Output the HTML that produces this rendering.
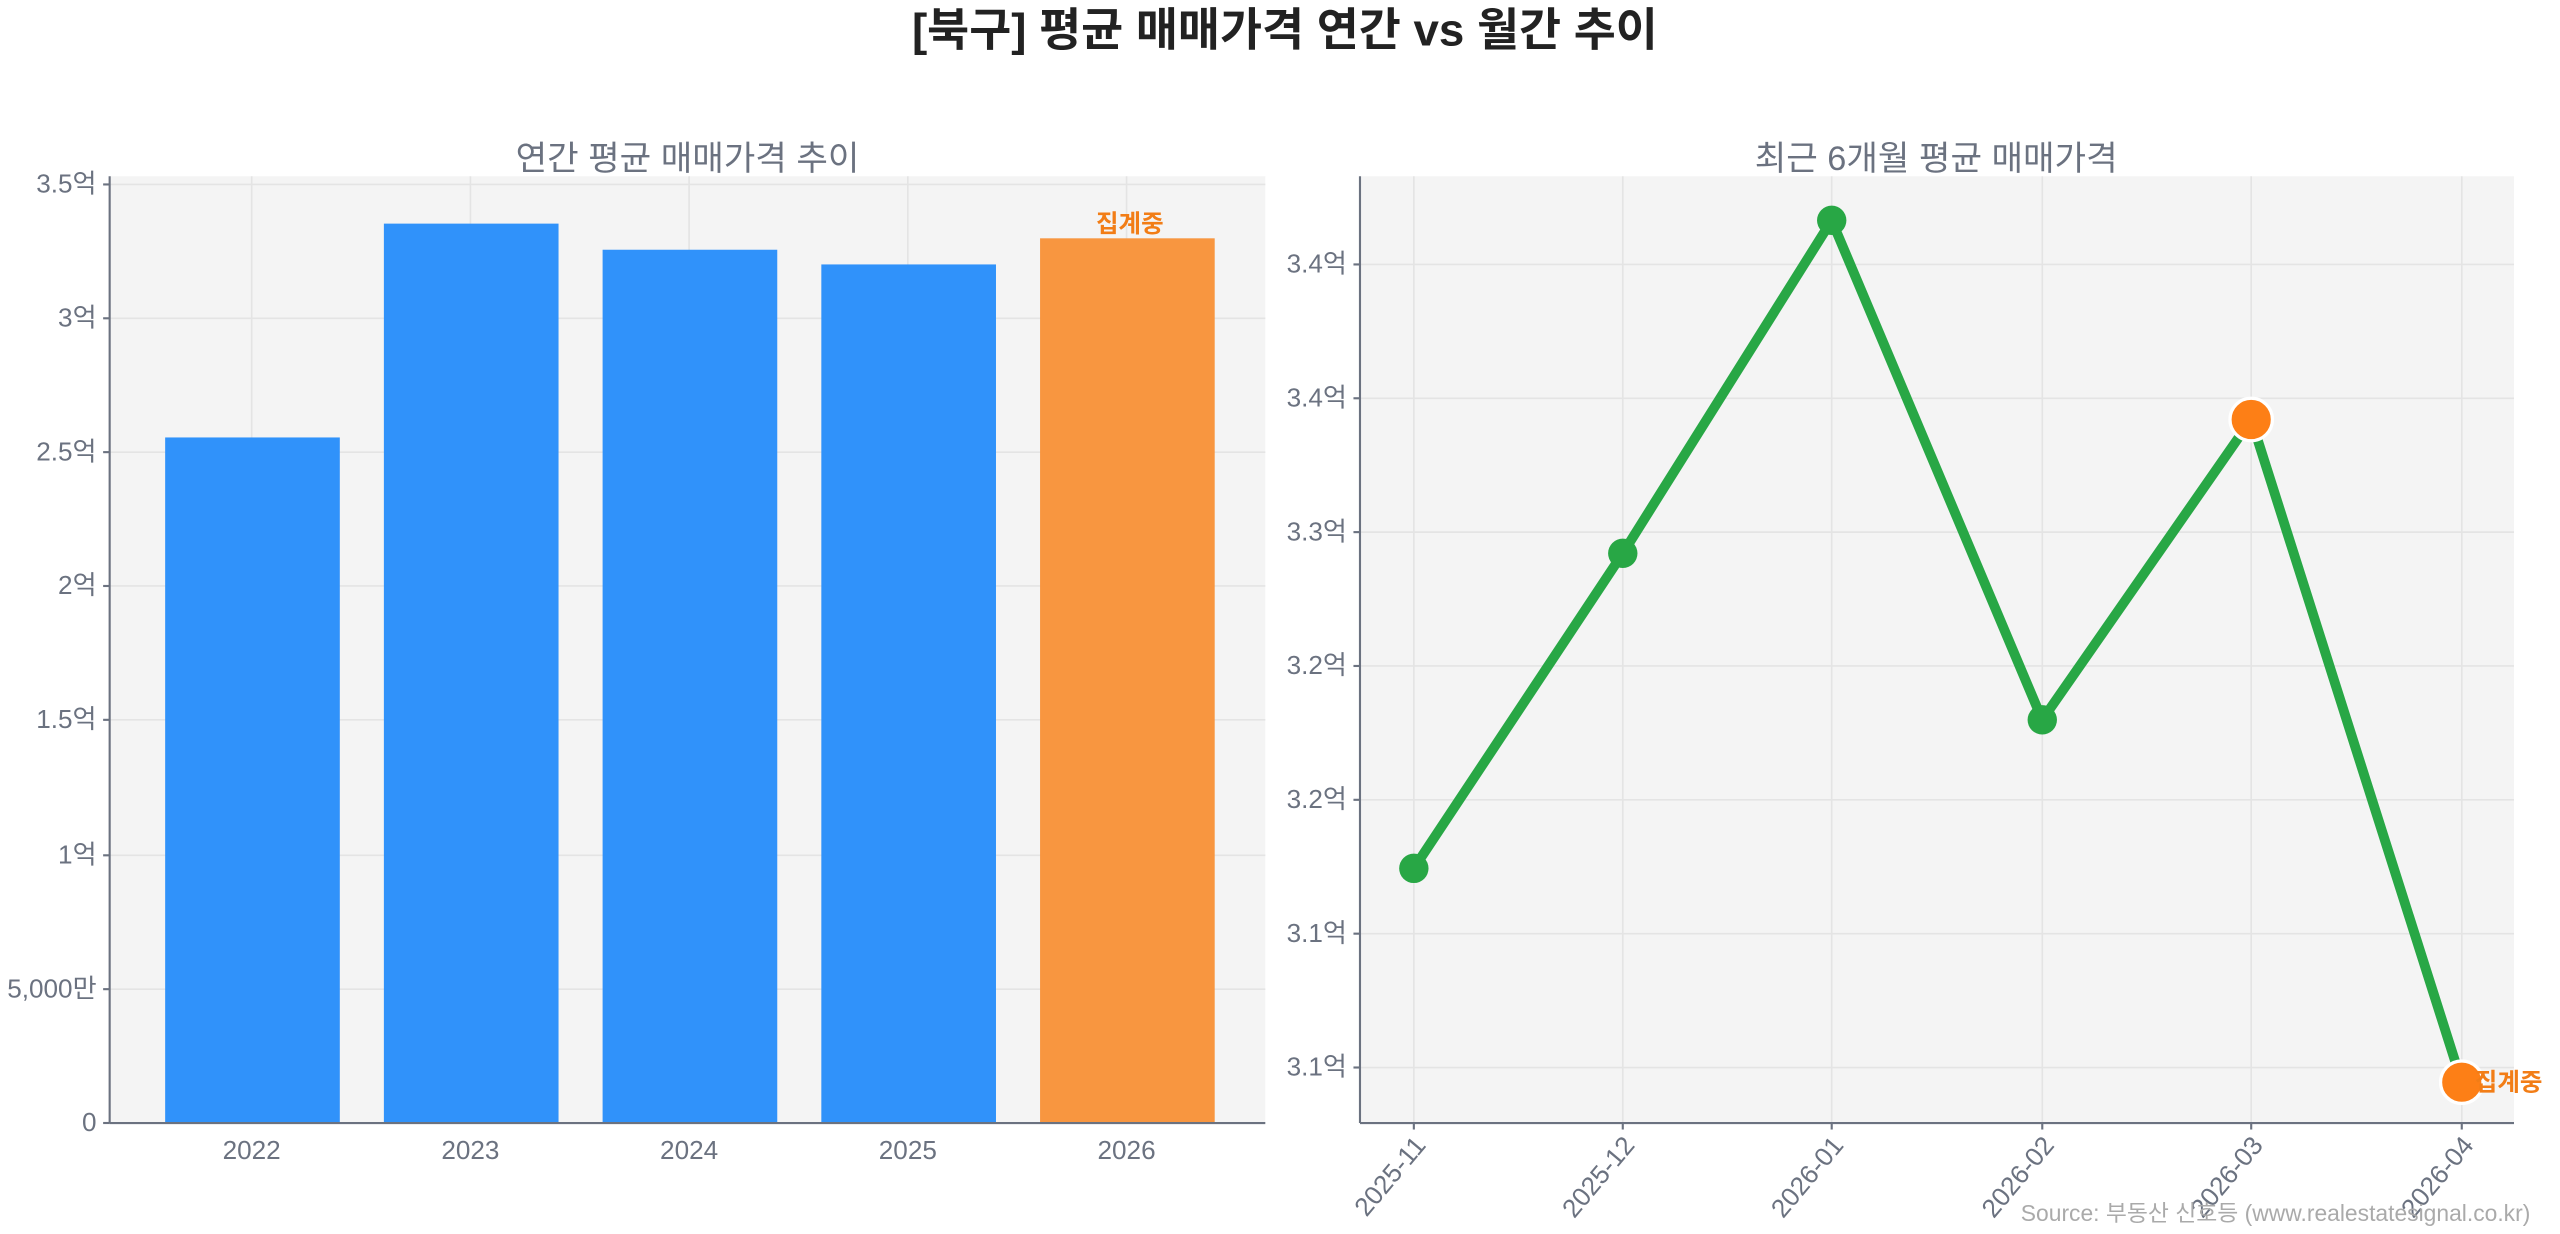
<!DOCTYPE html>
<html><head><meta charset="utf-8"><style>
html,body{margin:0;padding:0;background:#fff;}
svg{display:block}
text{font-family:"Liberation Sans","Noto Sans CJK KR",sans-serif;}
</style></head><body>
<svg width="2560" height="1234" viewBox="0 0 1568 756" xmlns="http://www.w3.org/2000/svg">
<rect width="1568" height="756" fill="#fff"/>
<text x="787" y="28" text-anchor="middle" font-size="28" font-weight="bold" fill="#222">[북구] 평균 매매가격 연간 vs 월간 추이</text>
<text x="421" y="104" text-anchor="middle" font-size="21" fill="#6b7280">연간 평균 매매가격 추이</text>
<text x="1186" y="104" text-anchor="middle" font-size="21" fill="#6b7280">최근 6개월 평균 매매가격</text>
<!-- left axes -->
<rect x="67" y="108" width="708" height="580" fill="#f4f4f4"/>
<g stroke="#e4e4e4" stroke-width="1">
<line x1="67" x2="775" y1="113" y2="113"/><line x1="67" x2="775" y1="195" y2="195"/><line x1="67" x2="775" y1="277" y2="277"/><line x1="67" x2="775" y1="359" y2="359"/><line x1="67" x2="775" y1="441" y2="441"/><line x1="67" x2="775" y1="524" y2="524"/><line x1="67" x2="775" y1="606" y2="606"/>
<line x1="154" x2="154" y1="108" y2="688"/><line x1="288" x2="288" y1="108" y2="688"/><line x1="422" x2="422" y1="108" y2="688"/><line x1="556" x2="556" y1="108" y2="688"/><line x1="690" x2="690" y1="108" y2="688"/>
</g>
<rect x="101" y="268" width="107" height="420" fill="#3092fa"/>
<rect x="235" y="137" width="107" height="551" fill="#3092fa"/>
<rect x="369" y="153" width="107" height="535" fill="#3092fa"/>
<rect x="503" y="162" width="107" height="526" fill="#3092fa"/>
<rect x="637" y="146" width="107" height="542" fill="#f89640"/>
<text x="692" y="142" text-anchor="middle" font-size="15" font-weight="bold" fill="#f27d16">집계중</text>
<g stroke="#6b7280" stroke-width="1.3"><line x1="67" x2="67" y1="108" y2="688"/><line x1="67" x2="775" y1="688" y2="688"/>
<line x1="63" x2="67" y1="113" y2="113"/><line x1="63" x2="67" y1="195" y2="195"/><line x1="63" x2="67" y1="277" y2="277"/><line x1="63" x2="67" y1="359" y2="359"/><line x1="63" x2="67" y1="441" y2="441"/><line x1="63" x2="67" y1="524" y2="524"/><line x1="63" x2="67" y1="606" y2="606"/><line x1="63" x2="67" y1="688" y2="688"/>
</g>
<g font-size="16" fill="#6b7280" text-anchor="end">
<text x="59" y="118">3.5억</text><text x="59" y="200">3억</text><text x="59" y="282">2.5억</text><text x="59" y="364">2억</text><text x="59" y="446">1.5억</text><text x="59" y="529">1억</text><text x="59" y="611">5,000만</text><text x="59" y="693">0</text>
</g>
<g font-size="16" fill="#6b7280" text-anchor="middle">
<text x="154" y="710">2022</text><text x="288" y="710">2023</text><text x="422" y="710">2024</text><text x="556" y="710">2025</text><text x="690" y="710">2026</text>
</g>
<!-- right axes -->
<rect x="833" y="108" width="707" height="580" fill="#f4f4f4"/>
<g stroke="#e4e4e4" stroke-width="1">
<line x1="833" x2="1540" y1="162" y2="162"/><line x1="833" x2="1540" y1="244" y2="244"/><line x1="833" x2="1540" y1="326" y2="326"/><line x1="833" x2="1540" y1="408" y2="408"/><line x1="833" x2="1540" y1="490" y2="490"/><line x1="833" x2="1540" y1="572" y2="572"/><line x1="833" x2="1540" y1="654" y2="654"/>
<line x1="866" x2="866" y1="108" y2="688"/><line x1="994" x2="994" y1="108" y2="688"/><line x1="1122" x2="1122" y1="108" y2="688"/><line x1="1251" x2="1251" y1="108" y2="688"/><line x1="1379" x2="1379" y1="108" y2="688"/><line x1="1508" x2="1508" y1="108" y2="688"/>
</g>
<polyline points="866,532 994,339 1122,135 1251,441 1379,257 1508,663" fill="none" stroke="#28a745" stroke-width="6" stroke-linejoin="round"/>
<g fill="#28a745"><circle cx="866" cy="532" r="9"/><circle cx="994" cy="339" r="9"/><circle cx="1122" cy="135" r="9"/><circle cx="1251" cy="441" r="9"/></g>
<circle cx="1379" cy="257" r="13" fill="#fd7f16" stroke="#fff" stroke-width="2"/>
<circle cx="1508" cy="663" r="13" fill="#fd7f16" stroke="#fff" stroke-width="2"/>
<text x="1516" y="668" font-size="15" font-weight="bold" fill="#f27d16">집계중</text>
<g stroke="#6b7280" stroke-width="1.3"><line x1="833" x2="833" y1="108" y2="688"/><line x1="833" x2="1540" y1="688" y2="688"/>
<line x1="829" x2="833" y1="162" y2="162"/><line x1="829" x2="833" y1="244" y2="244"/><line x1="829" x2="833" y1="326" y2="326"/><line x1="829" x2="833" y1="408" y2="408"/><line x1="829" x2="833" y1="490" y2="490"/><line x1="829" x2="833" y1="572" y2="572"/><line x1="829" x2="833" y1="654" y2="654"/>
<line x1="866" x2="866" y1="688" y2="692"/><line x1="994" x2="994" y1="688" y2="692"/><line x1="1122" x2="1122" y1="688" y2="692"/><line x1="1251" x2="1251" y1="688" y2="692"/><line x1="1379" x2="1379" y1="688" y2="692"/><line x1="1508" x2="1508" y1="688" y2="692"/>
</g>
<g font-size="16" fill="#6b7280" text-anchor="end">
<text x="825" y="167">3.4억</text><text x="825" y="249">3.4억</text><text x="825" y="331">3.3억</text><text x="825" y="413">3.2억</text><text x="825" y="495">3.2억</text><text x="825" y="577">3.1억</text><text x="825" y="659">3.1억</text>
</g>
<g font-size="16" fill="#6b7280" text-anchor="end">
<text transform="translate(874,702) rotate(-50)">2025-11</text>
<text transform="translate(1002,702) rotate(-50)">2025-12</text>
<text transform="translate(1130,702) rotate(-50)">2026-01</text>
<text transform="translate(1259,702) rotate(-50)">2026-02</text>
<text transform="translate(1387,702) rotate(-50)">2026-03</text>
<text transform="translate(1516,702) rotate(-50)">2026-04</text>
</g>
<text x="1550" y="748" text-anchor="end" font-size="14" fill="#aaa">Source: 부동산 신호등 (www.realestatesignal.co.kr)</text>
</svg>
</body></html>
